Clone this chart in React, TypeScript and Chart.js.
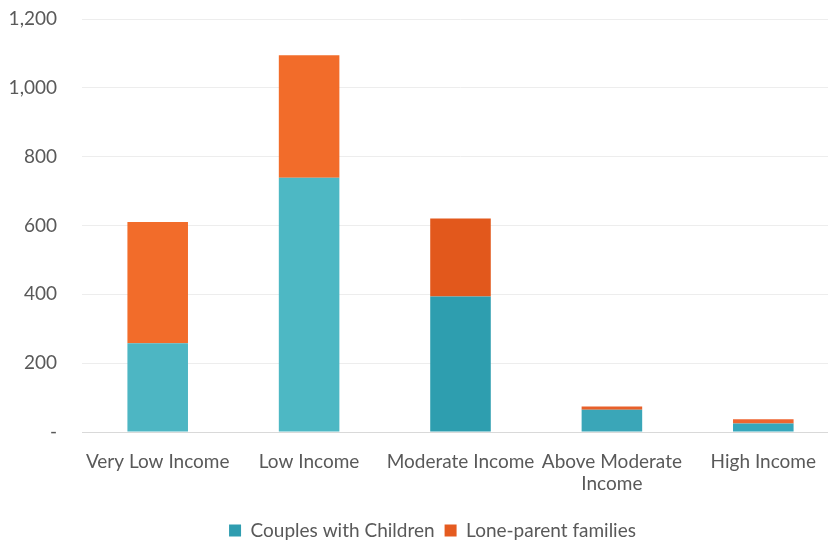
import React, { useEffect, useRef } from "react";
import { Chart, registerables } from "chart.js";

Chart.register(...registerables);

const categories: (string | string[])[] = [
  "Very Low Income",
  "Low Income",
  "Moderate Income",
  ["Above Moderate", "Income"],
  "High Income",
];
const couplesWithChildren = [258, 739, 394, 65, 25];
const loneParentFamilies = [352, 356, 226, 9, 12];
const yTicks = [0, 200, 400, 600, 800, 1000, 1200];

const tealColors = ["#4DB6C3", "#4DB8C4", "#2E9EAF", "#3AA6B8", "#35A7BC"];
const orangeColors = ["#F26C2A", "#F26C2A", "#E2581C", "#E8602A", "#EE6530"];

const shiftLegend = {
  id: "shiftLegend",
  afterLayout(chart: any) {
    const l = chart.legend;
    if (l) {
      l.left += 13;
      l.right += 13;
    }
  },
};

export default function App() {
  const ref = useRef<HTMLCanvasElement | null>(null);
  useEffect(() => {
    if (!ref.current) return;
    const font = { family: "Lato", size: 19 };
    const chart = new Chart(ref.current, {
      type: "bar",
      data: {
        labels: categories,
        datasets: [
          {
            label: "Couples with Children",
            data: couplesWithChildren,
            backgroundColor: tealColors,
            barPercentage: 0.4,
            categoryPercentage: 1,
          },
          {
            label: "Lone-parent families",
            data: loneParentFamilies,
            backgroundColor: orangeColors,
            barPercentage: 0.4,
            categoryPercentage: 1,
          },
        ],
      },
      plugins: [shiftLegend],
      options: {
        responsive: false,
        animation: false,
        layout: { padding: { top: 19, left: 0, right: 0, bottom: 0 } },
        plugins: {
          tooltip: { enabled: false },
          legend: {
            position: "bottom",
            labels: {
              color: "#595959",
              font,
              boxWidth: 12,
              boxHeight: 12,
              padding: 10,
              generateLabels: () => [
                { text: "Couples with Children", fillStyle: "#2F9DB0", strokeStyle: "#2F9DB0", lineWidth: 0, fontColor: "#595959", datasetIndex: 0 },
                { text: "Lone-parent families", fillStyle: "#E55B20", strokeStyle: "#E55B20", lineWidth: 0, fontColor: "#595959", datasetIndex: 1 },
              ],
            },
          },
        },
        scales: {
          x: {
            stacked: true,
            grid: { display: false },
            border: { display: true, color: "#d9d9d9" },
            afterFit: (s: any) => {
              s.height = 79;
            },
            ticks: { color: "#595959", font, padding: 10, maxRotation: 0, autoSkip: false },
          },
          y: {
            stacked: true,
            min: 0,
            max: 1200,
            afterBuildTicks: (s: any) => {
              s.ticks = yTicks.map((v) => ({ value: v }));
            },
            afterFit: (s: any) => {
              s.width = 82;
            },
            grid: { color: "#ededed", drawTicks: true, tickLength: 22, tickColor: "rgba(0,0,0,0)" },
            border: { display: false },
            ticks: {
              color: "#595959",
              font,
              padding: 3,
              callback: (v: any) => (Number(v) === 0 ? "-" : Number(v).toLocaleString("en-US")),
            },
          },
        },
      },
    });
    return () => chart.destroy();
  }, []);
  return (
    <div
      style={{
        position: "fixed",
        left: 0,
        top: 0,
        width: 828,
        height: 541,
        overflow: "hidden",
        background: "#ffffff",
      }}
    >
      <canvas ref={ref} width={839} height={550} style={{ display: "block" }} />
    </div>
  );
}
